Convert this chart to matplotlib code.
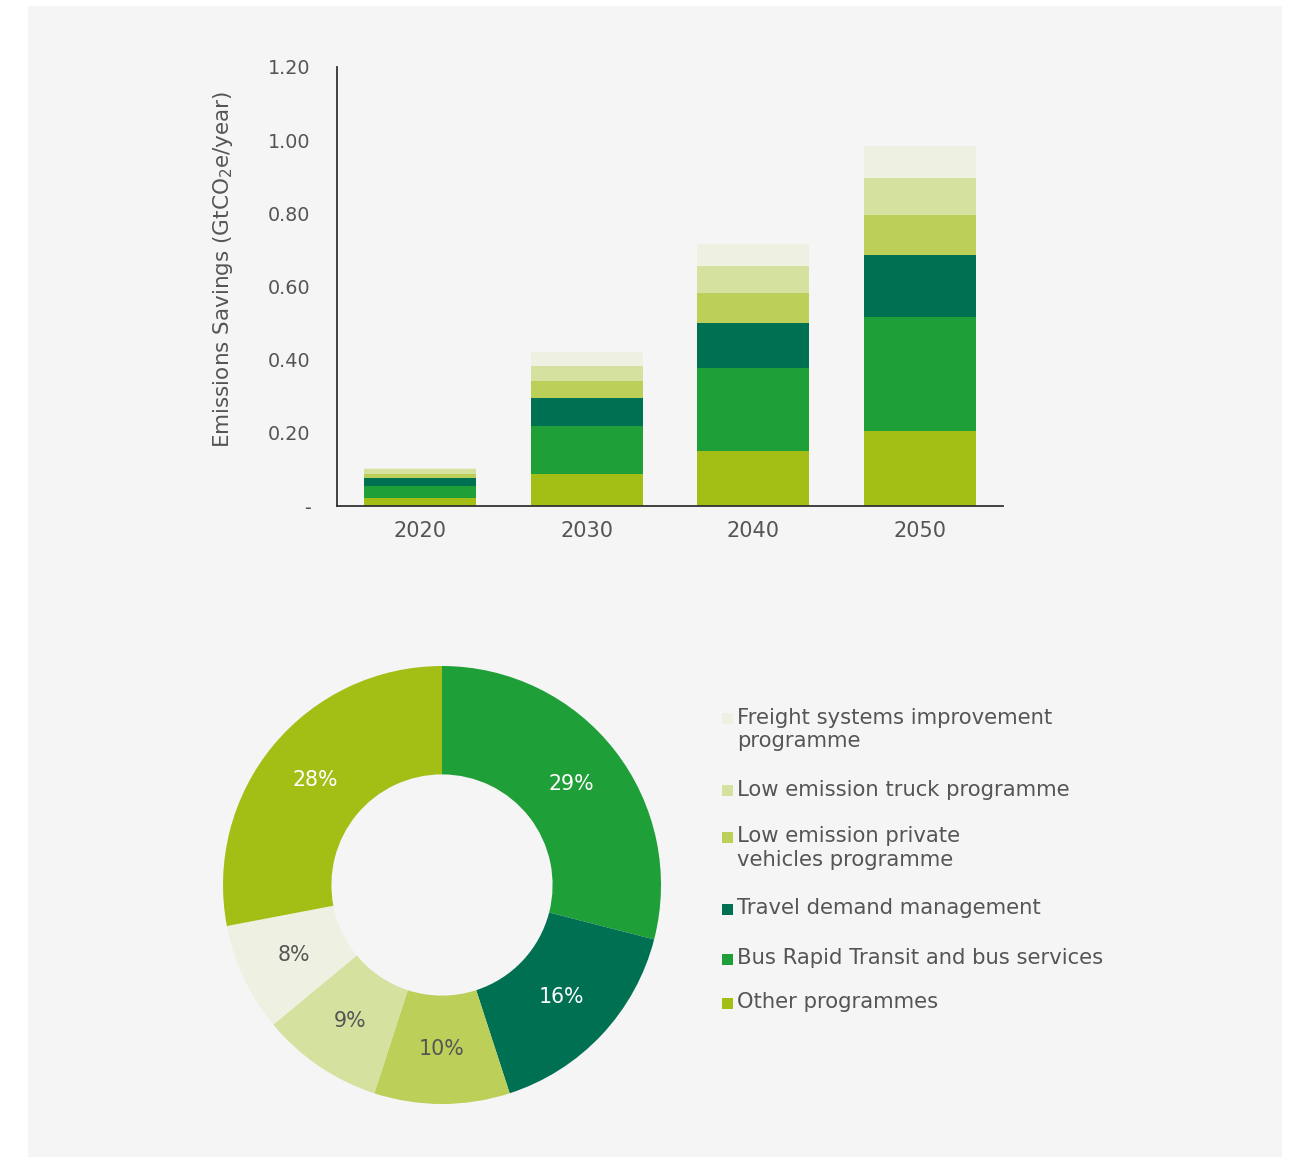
import matplotlib
matplotlib.use("Agg")
import matplotlib.pyplot as plt
from matplotlib.patches import Rectangle
import numpy as np

plt.rcParams['font.family'] = ['DejaVu Sans']
plt.rcParams['mathtext.default'] = 'regular'

# ---- data ----
years = ["2020", "2030", "2040", "2050"]
series_names = ["Other programmes", "Bus Rapid Transit and bus services",
                "Travel demand management", "Low emission private vehicles programme",
                "Low emission truck programme", "Freight systems improvement programme"]
other = [0.023, 0.088, 0.150, 0.206]
bus = [0.033, 0.131, 0.227, 0.311]
travel = [0.021, 0.077, 0.122, 0.169]
private = [0.011, 0.046, 0.082, 0.109]
truck = [0.014, 0.041, 0.074, 0.101]
freight = [0.003, 0.038, 0.062, 0.087]

y_ticks = [0.0, 0.2, 0.4, 0.6, 0.8, 1.0, 1.2]
y_tick_labels = ["-", "0.20", "0.40", "0.60", "0.80", "1.00", "1.20"]

# donut (clockwise from top)
donut_labels = ["29%", "16%", "10%", "9%", "8%", "28%"]
donut_values = [29, 16, 10, 9, 8, 28]

legend_labels = ["Freight systems improvement\nprogramme",
                 "Low emission truck programme",
                 "Low emission private\nvehicles programme",
                 "Travel demand management",
                 "Bus Rapid Transit and bus services",
                 "Other programmes"]

# ---- style ----
c_other = "#a3bf16"
c_bus = "#1f9f37"
c_travel = "#007052"
c_private = "#bccf58"
c_truck = "#d5e19f"
c_freight = "#eef1e2"
text_col = "#555555"
panel_col = "#f5f5f5"

W, H = 1296, 1157
fig = plt.figure(figsize=(W / 100, H / 100), dpi=100, facecolor="white")

# background panel
fig.patches.append(Rectangle((28 / W, 0), (1282 - 28) / W, (1157 - 6) / H,
                             transform=fig.transFigure, facecolor=panel_col,
                             edgecolor="none", zorder=-10))

# ---- bar chart ----
ax = fig.add_axes([337 / W, 1 - 506 / H, (1003 - 337) / W, (506 - 67) / H])
ax.set_facecolor("none")
x = np.arange(len(years))
width = 0.67
stack = [(other, c_other), (bus, c_bus), (travel, c_travel),
         (private, c_private), (truck, c_truck), (freight, c_freight)]
bottom = np.zeros(len(years))
for vals, col in stack:
    v = np.array(vals)
    ax.bar(x, v, width, bottom=bottom, color=col, edgecolor="none", zorder=2)
    bottom += v

ax.set_xlim(-0.5, 3.5)
ax.set_ylim(0, 1.2)
ax.set_yticks(y_ticks)
ax.set_yticklabels(y_tick_labels)
ax.set_xticks(x)
ax.set_xticklabels(years)
for s in ["top", "right"]:
    ax.spines[s].set_visible(False)
for s in ["left", "bottom"]:
    ax.spines[s].set_color("#333333")
    ax.spines[s].set_linewidth(1.3)
ax.tick_params(axis="y", length=0, pad=19, labelsize=13.8, labelcolor=text_col)
ax.tick_params(axis="x", length=0, pad=11, labelsize=15, labelcolor=text_col)
ax.set_ylabel("Emissions Savings (GtCO$_2$e/year)", fontsize=15.5, color=text_col)
ax.yaxis.set_label_coords(-0.153, 0.54)

# ---- donut ----
cx, cy, r = 442, 885, 219
ax2 = fig.add_axes([(cx - r) / W, 1 - (cy + r) / H, 2 * r / W, 2 * r / H])
ax2.set_facecolor("none")
cols = [c_bus, c_travel, c_private, c_truck, c_freight, c_other]
wedges, _ = ax2.pie(donut_values, colors=cols, startangle=90, counterclock=False,
                    radius=1.0, wedgeprops=dict(width=0.495, edgecolor="none"))
ax2.set_xlim(-1, 1)
ax2.set_ylim(-1, 1)
ax2.axis("off")
total = sum(donut_values)
ang = 90.0
lab_cols = ["white", "white", text_col, text_col, text_col, "white"]
for val, lab, lc in zip(donut_values, donut_labels, lab_cols):
    span = 360.0 * val / total
    mid = np.deg2rad(ang - span / 2)
    ax2.text(0.75 * np.cos(mid), 0.75 * np.sin(mid), lab, ha="center", va="center",
             fontsize=14.8, color=lc)
    ang -= span

# ---- legend (manual) ----
leg_cols = [c_freight, c_truck, c_private, c_travel, c_bus, c_other]
leg_y = [718, 790, 837, 909, 959, 1003]
sq = 11
for lab, col, yy in zip(legend_labels, leg_cols, leg_y):
    fig.patches.append(Rectangle((722 / W, 1 - (yy + sq / 2) / H), sq / W, sq / H,
                                 transform=fig.transFigure, facecolor=col,
                                 edgecolor="none"))
    fig.text(737 / W, 1 - (yy - 10.5) / H, lab, ha="left", va="top", fontsize=15.2,
             color=text_col, linespacing=1.22)

fig.savefig("out.png", dpi=100, facecolor="white")
